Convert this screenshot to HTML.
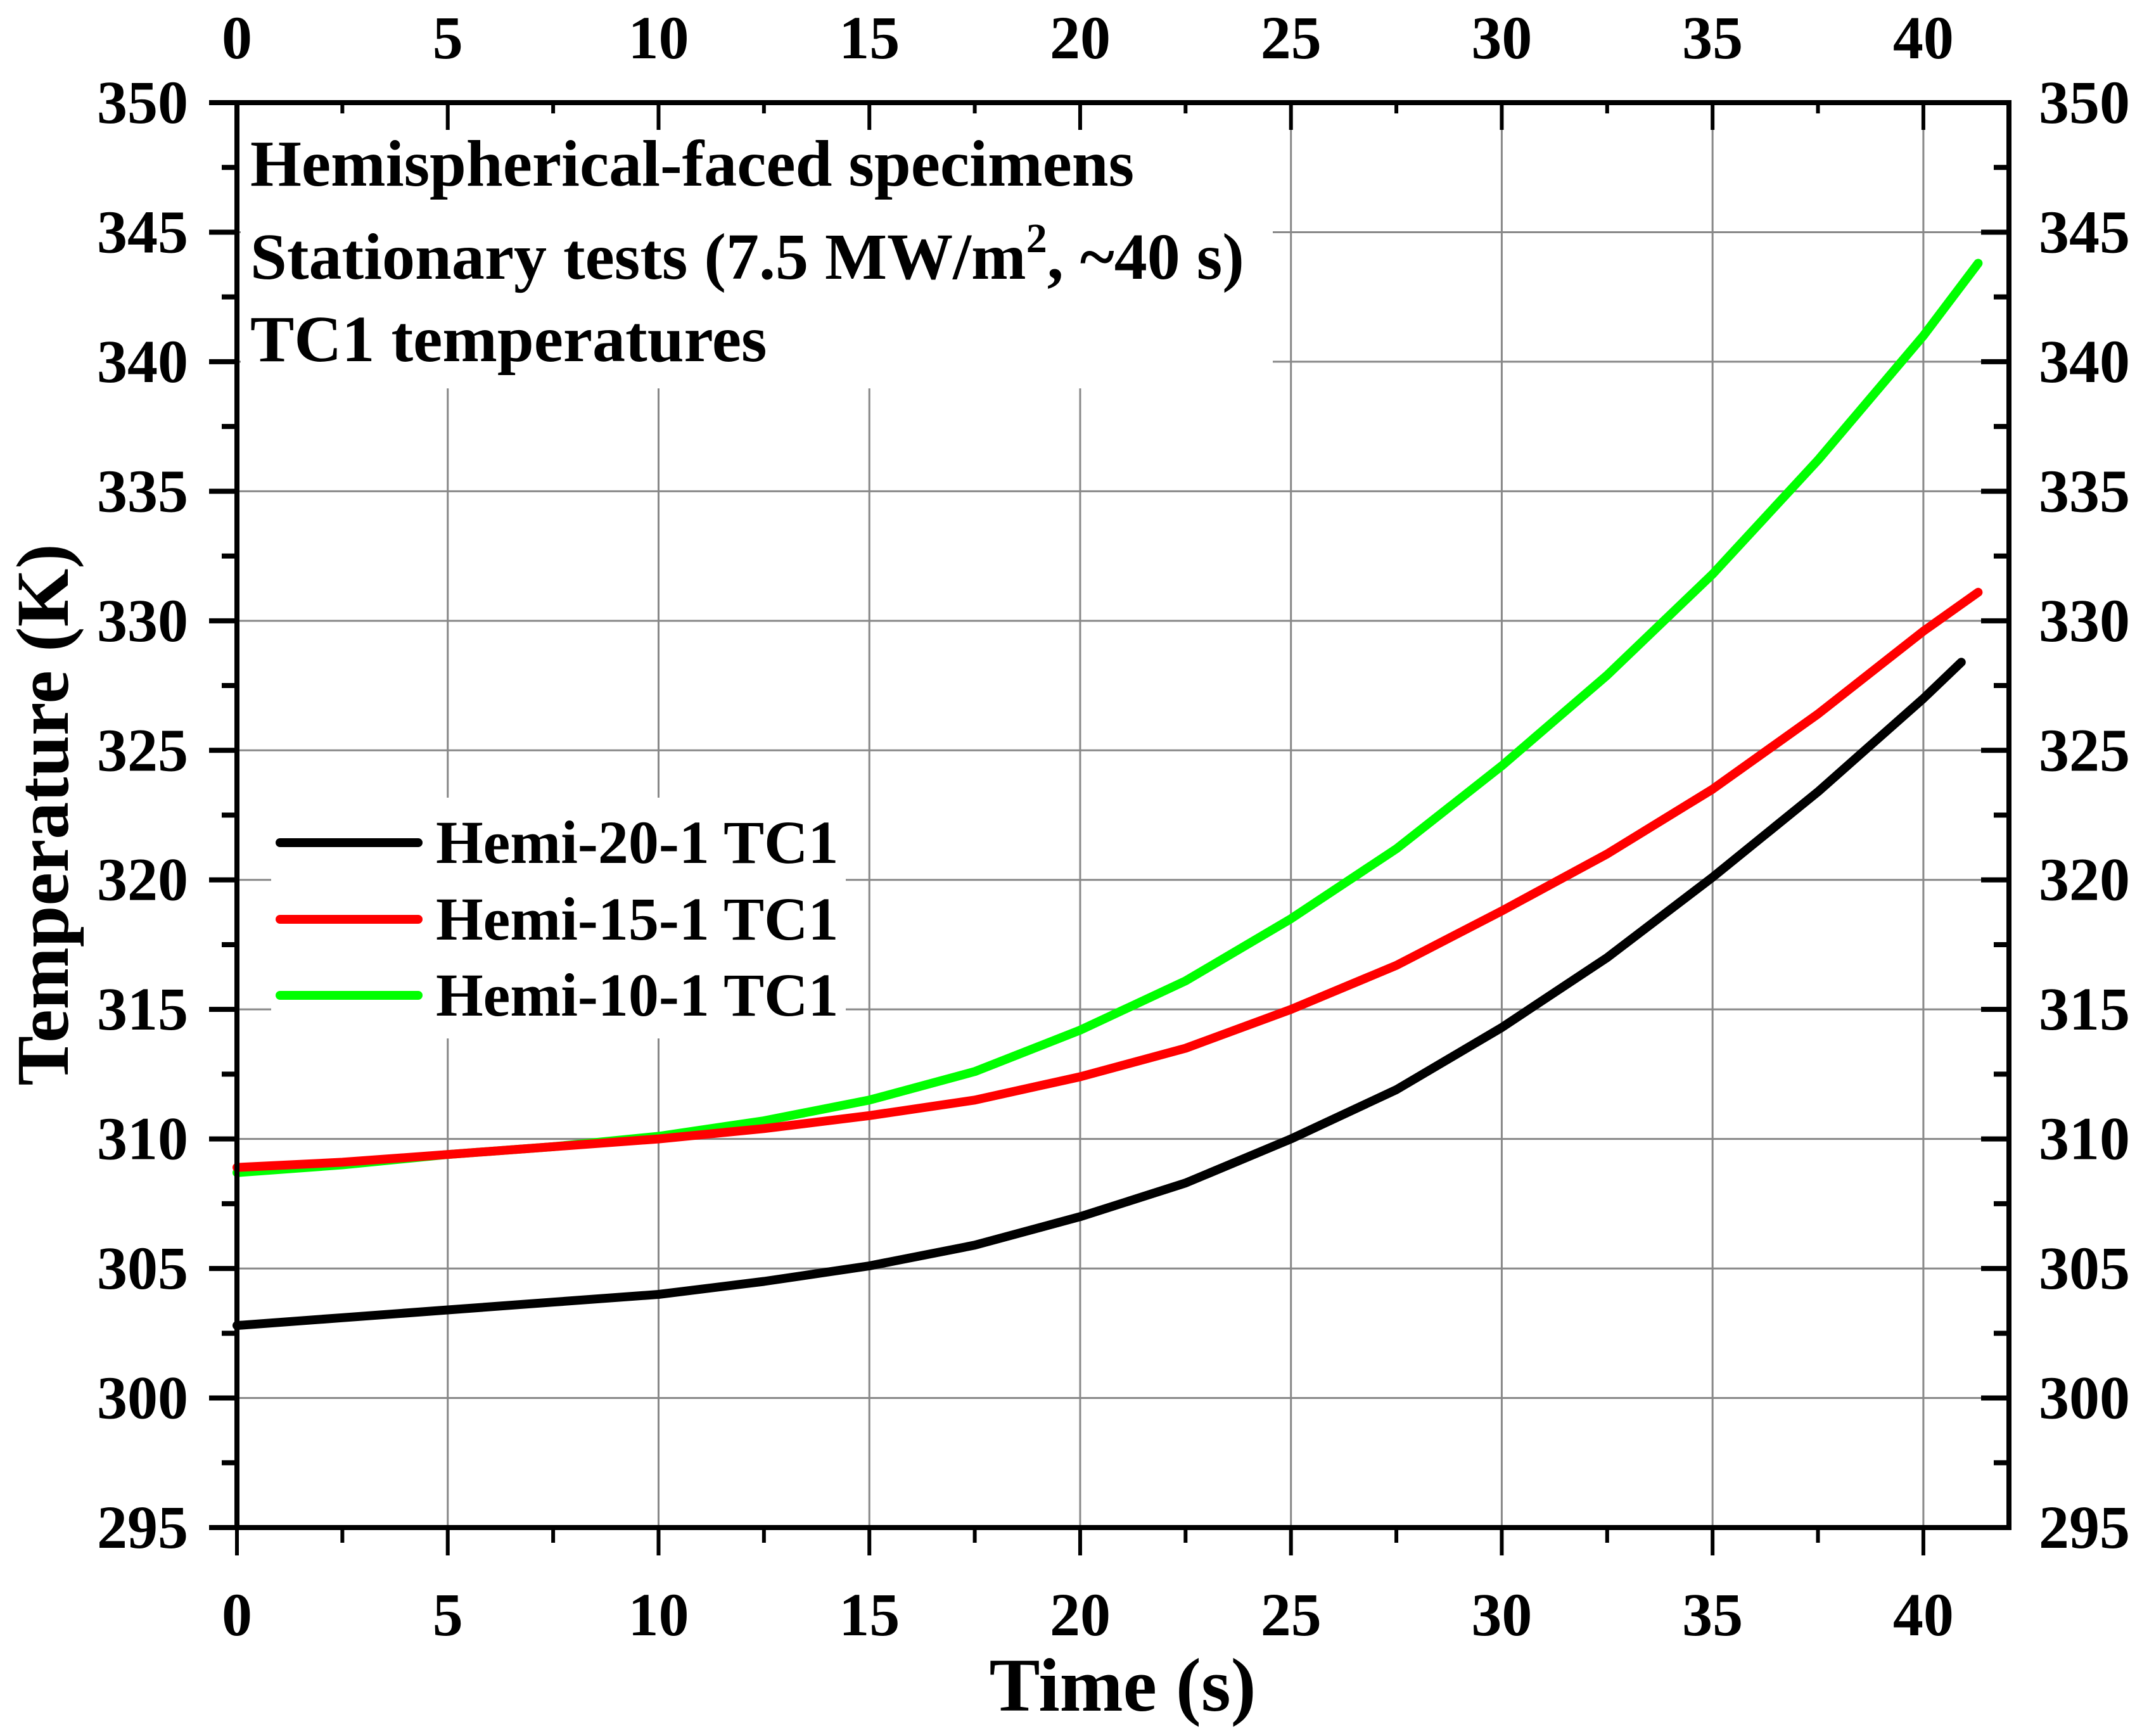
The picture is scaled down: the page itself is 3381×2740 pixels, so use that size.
<!DOCTYPE html>
<html><head><meta charset="utf-8"><style>
html,body{margin:0;padding:0;background:#fff;font-family:"Liberation Serif","Times New Roman",serif;}
svg, svg text{font-family:"Liberation Serif","Times New Roman",serif;font-weight:bold;}
</style></head><body>
<svg id="chart" width="3381" height="2735" viewBox="0 0 3381 2735" xmlns="http://www.w3.org/2000/svg" font-family="Liberation Serif, serif" font-weight="bold">
<rect width="3381" height="2735" fill="#fff"/>
<g id="grid"></g>
<g id="series"></g>
<rect x="380" y="167" width="1629" height="446" fill="#fff"/>
<g font-size="104" font-family="Liberation Serif, serif" font-weight="bold">
<text x="395" y="293">Hemispherical-faced specimens</text>
<text x="395" y="440">Stationary tests (7.5 MW/m<tspan dy="-42" font-size="66">2</tspan><tspan dy="42">, ~40 s)</tspan></text>
<text x="395" y="570">TC1 temperatures</text>
</g>
<rect x="428" y="1259" width="907" height="380" fill="#fff"/>
<g id="legend" font-size="96" font-family="Liberation Serif, serif" font-weight="bold"></g>
<g id="axes" font-family="Liberation Serif, serif" font-weight="bold"></g>
<text x="1772" y="2700" font-size="120" text-anchor="middle" font-family="Liberation Serif, serif" font-weight="bold">Time (s)</text>
<text transform="translate(107,1286) rotate(-90)" font-size="118" text-anchor="middle" font-family="Liberation Serif, serif" font-weight="bold">Temperature (K)</text>
</svg>
<script>
const seriesNames = ["Hemi-20-1 TC1","Hemi-15-1 TC1","Hemi-10-1 TC1"];
const seriesColors = ["#000000","#ff0000","#00ff00"];
const timeBlack = [0,2.5,5,7.5,10,12.5,15,17.5,20,22.5,25,27.5,30,32.5,35,37.5,40,40.9];
const tempBlack = [302.8,303.1,303.4,303.7,304.0,304.5,305.1,305.9,307.0,308.3,310.0,311.9,314.3,317.0,320.1,323.4,327.0,328.4];
const timeRed = [0,2.5,5,7.5,10,12.5,15,17.5,20,22.5,25,27.5,30,32.5,35,37.5,40,41.3];
const tempRed = [308.9,309.1,309.4,309.7,310.0,310.4,310.9,311.5,312.4,313.5,315.0,316.7,318.8,321.0,323.5,326.4,329.6,331.1];
const timeGreen = [0,2.5,5,7.5,10,12.5,15,17.5,20,22.5,25,27.5,30,32.5,35,37.5,40,41.3];
const tempGreen = [308.7,309.0,309.4,309.7,310.1,310.7,311.5,312.6,314.2,316.1,318.5,321.2,324.4,327.9,331.8,336.2,341.0,343.8];
const xTicks = [0,5,10,15,20,25,30,35,40];
const yTicks = [295,300,305,310,315,320,325,330,335,340,345,350];

const X0=374, X1=3171, Y0=2411, Y1=162;
const xMin=0, xMax=42.03, yMin=295, yMax=350;
function sx(v){return X0+(v-xMin)/(xMax-xMin)*(X1-X0);}
function sy(v){return Y0-(v-yMin)/(yMax-yMin)*(Y0-Y1);}
const NS="http://www.w3.org/2000/svg";
const FONT="Liberation Serif, serif";
function mk(tag,parent,attrs){const e=document.createElementNS(NS,tag);for(const k in attrs)e.setAttribute(k,attrs[k]);parent.appendChild(e);return e;}

const grid=document.getElementById('grid');
xTicks.forEach(t=>{if(t===0)return;const l=mk('line',grid,{x1:sx(t),x2:sx(t),y1:Y1,y2:Y0,stroke:'#888',"stroke-width":3});

});
yTicks.forEach(t=>{if(t===yMin||t===yMax)return;const l=mk('line',grid,{x1:X0,x2:X1,y1:sy(t),y2:sy(t),stroke:'#888',"stroke-width":3});

});

const ser=document.getElementById('series');
const allT=[timeBlack,timeRed,timeGreen], allV=[tempBlack,tempRed,tempGreen];
[2,1,0].forEach(i=>{
  let d='';allT[i].forEach((t,j)=>{d+=(j?'L':'M')+sx(t).toFixed(1)+','+sy(allV[i][j]).toFixed(1);});
  const p=mk('path',ser,{d:d,fill:'none',stroke:seriesColors[i],"stroke-width":14,"stroke-linejoin":"round","stroke-linecap":"round"});
  
  
});

const leg=document.getElementById('legend');
const legY=[1330,1451,1571];
seriesNames.forEach((n,i)=>{
  const l=mk('line',leg,{x1:442,x2:660,y1:legY[i],y2:legY[i],stroke:seriesColors[i],"stroke-width":14,"stroke-linecap":"round"});
  
  
  const t=mk('text',leg,{x:688,y:legY[i]+32,"font-family":FONT,"font-weight":"bold","font-size":96});
  t.textContent=n;
  
  
});

const ax=document.getElementById('axes');
const frame=mk('rect',ax,{x:X0,y:Y1,width:X1-X0,height:Y0-Y1,fill:'none',stroke:'#000',"stroke-width":8});


for(let v=0;v<=xMax;v+=2.5){
  const major=(v%5===0);
  const b=mk('line',ax,{x1:sx(v),x2:sx(v),y1:Y0,y2:Y0+(major?44:24),stroke:'#000',"stroke-width":6});
  
  
  const t=mk('line',ax,{x1:sx(v),x2:sx(v),y1:Y1,y2:Y1+(major?43:17),stroke:'#000',"stroke-width":6});
  
  
}
xTicks.forEach(v=>{
  const b=mk('text',ax,{x:sx(v),y:2581,"font-size":96,"text-anchor":"middle","font-family":FONT,"font-weight":"bold"});b.textContent=v;
  
  
  const t=mk('text',ax,{x:sx(v),y:92,"font-size":96,"text-anchor":"middle","font-family":FONT,"font-weight":"bold"});t.textContent=v;
  
  
});
for(let v=yMin;v<=yMax;v+=2.5){
  const major=(v%5===0);
  const l=mk('line',ax,{x1:X0-(major?44:24),x2:X0,y1:sy(v),y2:sy(v),stroke:'#000',"stroke-width":8});
  
  
  const r=mk('line',ax,{x1:X1-(major?44:24),x2:X1,y1:sy(v),y2:sy(v),stroke:'#000',"stroke-width":8});
  
  
}
yTicks.forEach(v=>{
  const l=mk('text',ax,{x:297,y:sy(v)+32,"font-size":96,"text-anchor":"end","font-family":FONT,"font-weight":"bold"});l.textContent=v;
  
  
  const r=mk('text',ax,{x:3218,y:sy(v)+32,"font-size":96,"font-family":FONT,"font-weight":"bold"});r.textContent=v;
  
  
});
</script>
</body></html>
